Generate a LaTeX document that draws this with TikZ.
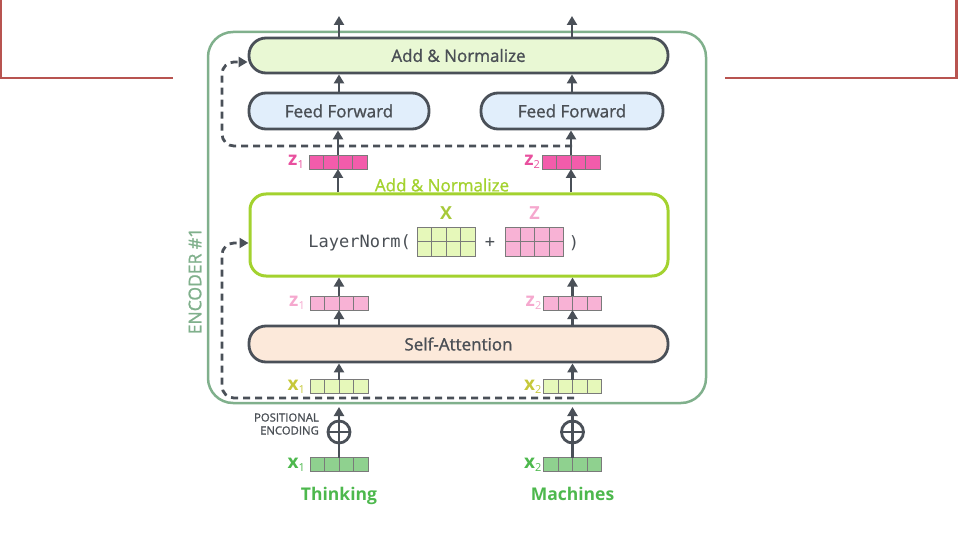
\documentclass[tikz,border=0pt]{standalone}
\usepackage{fontspec}
\setmainfont{Open Sans}
\setmonofont{DejaVu Sans Mono}
\newfontfamily\semib[FakeBold=1.2]{Open Sans}
\usetikzlibrary{arrows.meta,calc}
\definecolor{redline}{HTML}{B85450}
\definecolor{dgray}{HTML}{4A5058}
\definecolor{tgray}{HTML}{4A4F55}
\definecolor{cellgray}{HTML}{7A7A7A}
\definecolor{encgreen}{HTML}{80B08C}
\definecolor{lngreen}{HTML}{A3D22F}
\definecolor{addfill}{HTML}{E9F8D4}
\definecolor{fffill}{HTML}{E1EEFB}
\definecolor{safill}{HTML}{FCE9DA}
\definecolor{zdfill}{HTML}{F35CAB}
\definecolor{zdtext}{HTML}{E8509E}
\definecolor{zlfill}{HTML}{F8B2D5}
\definecolor{zltext}{HTML}{F5A8CE}
\definecolor{xyfill}{HTML}{E6F8BA}
\definecolor{xytext}{HTML}{C6C83A}
\definecolor{xgfill}{HTML}{8FD18F}
\definecolor{xgtext}{HTML}{4DB84D}
\definecolor{xmtext}{HTML}{A7C93A}
\begin{document}
\begin{tikzpicture}[x=1pt,y=-1pt,
  box/.style={draw=dgray, line width=2.8, rounded corners=17, inner sep=0, text=tgray, font=\fontsize{17}{20}\semib},
  arr/.style={line width=2.8, draw=dgray, -{Triangle[length=9pt,width=10pt]}},
  dasharr/.style={line width=2.8, draw=dgray, dash pattern=on 7pt off 5pt, rounded corners=12, -{Triangle[length=9pt,width=10pt]}},
  vecbase/.style={draw=cellgray, line width=0.9, minimum width=58, minimum height=14, inner sep=0, outer sep=0,
    path picture={\foreach \i in {1,2,3}{\draw[cellgray, line width=0.9] ($(path picture bounding box.south west)!\i/4!(path picture bounding box.south east)$) -- ($(path picture bounding box.north west)!\i/4!(path picture bounding box.north east)$);}}},
  midline/.style={path picture={\foreach \i in {1,2,3}{\draw[cellgray, line width=0.9] ($(path picture bounding box.south west)!\i/4!(path picture bounding box.south east)$) -- ($(path picture bounding box.north west)!\i/4!(path picture bounding box.north east)$);}
    \draw[cellgray, line width=0.9] ($(path picture bounding box.south west)!0.5!(path picture bounding box.north west)$) -- ($(path picture bounding box.south east)!0.5!(path picture bounding box.north east)$);}},
  veclabel/.style={anchor=east, inner sep=0, font=\fontsize{19}{20}\selectfont\bfseries},
  word/.style={font=\fontsize{17.5}{20}\selectfont\bfseries, text=xgtext, inner sep=0, anchor=base},
  plus/.style={circle, draw=dgray, line width=2.8, minimum size=22, inner sep=0,
    path picture={\draw[dgray, line width=2.8] (path picture bounding box.north) -- (path picture bounding box.south);
      \draw[dgray, line width=2.8] (path picture bounding box.west) -- (path picture bounding box.east);}}
]
\useasboundingbox (0,0) rectangle (958,540);

% red frame fragments
\draw[redline, line width=2.5] (1,0) -- (1,78) -- (173,78);
\draw[redline, line width=2.5] (725,78) -- (956.5,78) -- (956.5,0);

% encoder frame
\node[draw=encgreen, line width=2.5, rounded corners=25, minimum width=498, minimum height=371, inner sep=0] (enc) at (457,217.5) {};
\node[rotate=90, text=encgreen, font=\fontsize{17.5}{20}\semib, inner sep=0] (enclabel) at (195,281) {ENCODER \#1};

% main boxes
\node[box, fill=addfill, minimum width=419, minimum height=35] (an2) at (458.5,55.5) {Add \& Normalize};
\node[box, fill=fffill, minimum width=180, minimum height=36] (ffA) at (339,111) {Feed Forward};
\node[box, fill=fffill, minimum width=182, minimum height=36] (ffB) at (572,111) {Feed Forward};
\node[draw=lngreen, line width=3, rounded corners=16, minimum width=418, minimum height=82, inner sep=0] (ln) at (459,235) {};
\node[text=lngreen, font=\fontsize{17}{20}\semib, inner sep=0] (lnlabel) at (442,185) {Add \& Normalize};
\node[box, fill=safill, minimum width=419, minimum height=36] (sa) at (458.5,344) {Self-Attention};

% LayerNorm content
\node[font=\fontsize{17}{20}\ttfamily, text=tgray, inner sep=0, anchor=east] (lnt) at (411,243) {LayerNorm(};
\node[vecbase, midline, minimum height=29, fill=xyfill] (mX) at (446,241.5) {};
\node[text=xmtext, font=\fontsize{18}{20}\selectfont\bfseries, inner sep=0] (mXl) at (446,213) {X};
\node[text=tgray, font=\fontsize{17}{20}\ttfamily, inner sep=0] (lnplus) at (490,243) {+};
\node[vecbase, midline, minimum height=29, fill=zlfill] (mZ) at (534.5,241.5) {};
\node[text=zltext, font=\fontsize{18}{20}\selectfont\bfseries, inner sep=0] (mZl) at (534.5,213) {Z};
\node[text=tgray, font=\fontsize{17}{20}\ttfamily, inner sep=0] (lnclose) at (574,243) {)};

% vectors
\node[vecbase, fill=zdfill] (zdA) at (338,162) {};
\node[vecbase, fill=zdfill] (zdB) at (571,162) {};
\node[vecbase, fill=zlfill] (zlA) at (339,303) {};
\node[vecbase, fill=zlfill] (zlB) at (572.5,303) {};
\node[vecbase, fill=xyfill] (xA) at (339,386.5) {};
\node[vecbase, fill=xyfill] (xB) at (572.5,386.5) {};
\node[vecbase, fill=xgfill] (xgA) at (339,464.5) {};
\node[vecbase, fill=xgfill] (xgB) at (572.5,464.5) {};

% vector labels
\node[veclabel, text=zdtext] (zdAl) at ([xshift=-5pt]zdA.west) {z\raisebox{-3pt}{\fontsize{11}{11}\selectfont\mdseries 1}};
\node[veclabel, text=zdtext] (zdBl) at ([xshift=-2pt]zdB.west) {z\raisebox{-3pt}{\fontsize{11}{11}\selectfont\mdseries 2}};
\node[veclabel, text=zltext] (zlAl) at ([xshift=-5pt]zlA.west) {z\raisebox{-3pt}{\fontsize{11}{11}\selectfont\mdseries 1}};
\node[veclabel, text=zltext] (zlBl) at ([xshift=-2pt]zlB.west) {z\raisebox{-3pt}{\fontsize{11}{11}\selectfont\mdseries 2}};
\node[veclabel, text=xytext] (xAl) at ([xshift=-5pt]xA.west) {x\raisebox{-3pt}{\fontsize{11}{11}\selectfont\mdseries 1}};
\node[veclabel, text=xytext] (xBl) at ([xshift=-2pt]xB.west) {x\raisebox{-3pt}{\fontsize{11}{11}\selectfont\mdseries 2}};
\node[veclabel, text=xgtext] (xgAl) at ([xshift=-5pt]xgA.west) {x\raisebox{-3pt}{\fontsize{11}{11}\selectfont\mdseries 1}};
\node[veclabel, text=xgtext] (xgBl) at ([xshift=-2pt]xgB.west) {x\raisebox{-3pt}{\fontsize{11}{11}\selectfont\mdseries 2}};

% positional encoding
\node[plus] (plA) at (339,432) {};
\node[plus] (plB) at (572.5,432) {};
\node[anchor=east, align=right, text=tgray, font=\fontsize{11.3}{13}\semib, inner sep=0] (pos) at (319,424) {POSITIONAL\\ENCODING};

% words
\node[word] (think) at (339,500) {Thinking};
\node[word] (mach) at (572.5,500) {Machines};

% coordinates
\coordinate (outA) at (339,16);
\coordinate (outB) at (572,16);
\coordinate (peA) at (339,407);
\coordinate (peB) at (572.5,407);
\coordinate (tapB) at (572,146);
\coordinate (tapB2) at (574,398);

% residual dashed connectors
\draw[dasharr] (tapB) -- (222,146) -- (222,62) -- ([yshift=-6.5pt]an2.west);
\draw[dasharr] (tapB2) -- (222,398) -- (222,243) -- ([yshift=-8pt]ln.west);

% solid arrows
\draw[arr] (an2.north -| outA) -- (outA);
\draw[arr] (an2.north -| outB) -- (outB);
\draw[arr] (ffA.north) -- (ffA.north |- an2.south);
\draw[arr] (ffB.north) -- (ffB.north |- an2.south);
\draw[arr] (zdA.north) -- (zdA.north |- ffA.south);
\draw[arr] (zdB.north) -- (zdB.north |- ffB.south);
\draw[arr] (ln.north -| zdA) -- (zdA.south);
\draw[arr] (ln.north -| zdB) -- (zdB.south);
\draw[arr] (zlA.north) -- (zlA.north |- ln.south);
\draw[arr] (zlB.north) -- (zlB.north |- ln.south);
\draw[arr] (sa.north -| zlA) -- (zlA.south);
\draw[arr] (sa.north -| zlB) -- (zlB.south);
\draw[arr] (xA.north) -- (xA.north |- sa.south);
\draw[arr] (xB.north) -- (xB.north |- sa.south);
\draw[arr] (plA.north) -- (peA);
\draw[arr] (plB.north) -- (peB);
\draw[line width=2.8, dgray] (xgA.north) -- (plA.south);
\draw[line width=2.8, dgray] (xgB.north) -- (plB.south);
\end{tikzpicture}
\end{document}
